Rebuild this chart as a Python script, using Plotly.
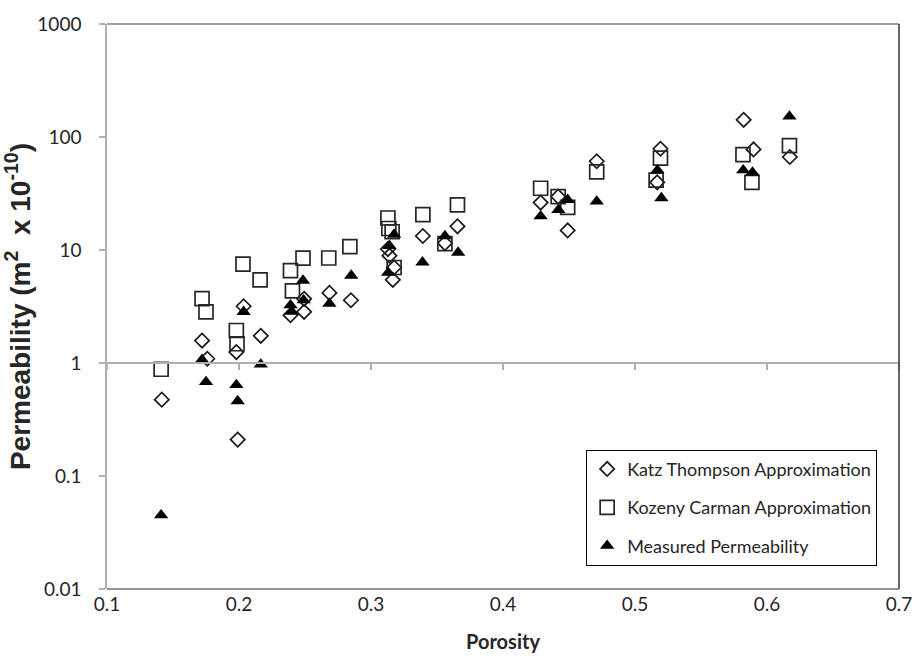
import math
import plotly.graph_objects as go

# ---- data ----
kt_porosity = [0.1415, 0.172, 0.176, 0.198, 0.199, 0.2035, 0.2165, 0.239, 0.2493, 0.2493,
               0.2685, 0.2848, 0.3128, 0.314, 0.3175, 0.3165, 0.3393, 0.356, 0.3655, 0.4285,
               0.4418, 0.449, 0.471, 0.5193, 0.5168, 0.5823, 0.5898, 0.6173]
kt_perm = [0.474, 1.58, 1.09, 1.25, 0.21, 3.18, 1.74, 2.65, 3.7, 2.84,
           4.17, 3.59, 10.2, 8.9, 7.0, 5.45, 13.3, 11.5, 16.2, 26.3,
           29.7, 14.9, 61.0, 78.7, 39.7, 142.0, 77.6, 66.5]

kc_porosity = [0.141, 0.172, 0.175, 0.198, 0.1985, 0.203, 0.216, 0.239, 0.2405, 0.2485,
               0.268, 0.284, 0.3128, 0.3135, 0.316, 0.3175, 0.3393, 0.356, 0.3655, 0.4285,
               0.4418, 0.449, 0.471, 0.5193, 0.516, 0.5818, 0.5886, 0.617]
kc_perm = [0.88, 3.71, 2.84, 1.94, 1.48, 7.5, 5.45, 6.57, 4.34, 8.48,
           8.5, 10.7, 19.2, 15.5, 14.5, 7.0, 20.6, 11.4, 25.1, 35.2,
           29.7, 23.8, 49.2, 65.0, 41.6, 69.7, 39.7, 84.0]

mp_porosity = [0.141, 0.172, 0.175, 0.198, 0.199, 0.2035, 0.2165, 0.239, 0.240, 0.2485,
               0.249, 0.2685, 0.285, 0.313, 0.314, 0.3175, 0.339, 0.356, 0.366, 0.4285,
               0.442, 0.449, 0.471, 0.517, 0.520, 0.582, 0.589, 0.617]
mp_perm = [0.045, 1.07, 0.68, 0.64, 0.46, 2.84, 0.97, 3.25, 2.85, 5.37,
           3.6, 3.36, 5.94, 6.3, 10.9, 13.7, 7.78, 13.3, 9.5, 19.9,
           22.7, 27.8, 26.9, 50.9, 28.8, 50.8, 48.6, 152.0]

series_names = ["Katz Thompson Approximation", "Kozeny Carman Approximation", "Measured Permeability"]

x_range = [0.1, 0.7]
x_ticks = [0.1, 0.2, 0.3, 0.4, 0.5, 0.6, 0.7]
x_ticktext = ["0.1", "0.2", "0.3", "0.4", "0.5", "0.6", "0.7"]
y_range = [0.01, 1000]
y_ticks = [0.01, 0.1, 1, 10, 100, 1000]
y_ticktext = ["0.01", "0.1", "1", "10", "100", "1000"]
y_cross = 1  # horizontal axis crosses the vertical axis at this value

FONT = "Lato"
INK = "#1a1a1a"
TXT = "#262626"

fig = go.Figure()
fig.add_trace(go.Scatter(x=kt_porosity, y=kt_perm, mode="markers", name=series_names[0],
                         legendgroup="a",
                         marker=dict(symbol="diamond-open", size=11, color=INK,
                                     line=dict(width=1.7, color=INK))))
fig.add_trace(go.Scatter(x=kc_porosity, y=kc_perm, mode="markers", name=series_names[1],
                         legendgroup="b",
                         marker=dict(symbol="square-open", size=14, color="#262626",
                                     line=dict(width=1.7, color="#262626"))))
fig.add_trace(go.Scatter(x=mp_porosity, y=mp_perm, mode="markers", name=series_names[2],
                         legendgroup="c",
                         marker=dict(symbol="triangle-up", size=12.5, color="#000000",
                                     line=dict(width=0))))
# invisible trace carrying the crossing horizontal axis
fig.add_trace(go.Scatter(x=[x_range[0]], y=[y_cross], xaxis="x2", mode="markers",
                         marker=dict(opacity=0), showlegend=False, hoverinfo="skip"))

lo, hi = math.log10(y_range[0]), math.log10(y_range[1])
cross_pos = (math.log10(y_cross) - lo) / (hi - lo)

fig.update_layout(
    width=924, height=665,
    margin=dict(l=107, r=17, t=17, b=76),
    paper_bgcolor="white", plot_bgcolor="white",
    font=dict(family=FONT, size=19, color=TXT),
    showlegend=True,
    xaxis=dict(range=x_range, tickvals=x_ticks, ticktext=x_ticktext,
               showgrid=False, zeroline=False, showline=False, ticks="",
               tickfont=dict(size=19, color=TXT), ticklabelstandoff=2,
               title=dict(text="<b>Porosity</b>", font=dict(size=20, color=TXT), standoff=20)),
    xaxis2=dict(overlaying="x", matches="x", anchor="free", position=cross_pos,
                range=x_range, tickvals=x_ticks, showticklabels=False,
                showgrid=False, zeroline=False, showline=True, linecolor="#b0b0b0", linewidth=1.5,
                ticks="outside", ticklen=6, tickcolor="#b0b0b0", tickwidth=1.5),
    yaxis=dict(type="log", range=[lo, hi], tickvals=y_ticks, ticktext=y_ticktext,
               showgrid=False, zeroline=False, showline=True, linecolor="#b0b0b0", linewidth=1.5,
               ticks="outside", ticklen=6, tickcolor="#b0b0b0", tickwidth=1.5,
               tickfont=dict(size=19, color=TXT), ticklabelstandoff=14,
               title=dict(text="<b>Permeability (m<sup>2</sup>  x 10<sup>-10</sup>)</b>",
                          font=dict(family="Liberation Sans", size=28, color=TXT), standoff=4)),
    legend=dict(x=0.605, y=0.2465, xanchor="left", yanchor="top",
                bordercolor="#000000", borderwidth=1, bgcolor="white",
                font=dict(family=FONT, size=18, color=TXT),
                traceorder="grouped", tracegroupgap=12, itemwidth=30),
    shapes=[
        dict(type="line", xref="paper", yref="paper", x0=0, x1=1, y0=1, y1=1,
             line=dict(color="#808080", width=1.5)),
        dict(type="line", xref="paper", yref="paper", x0=1, x1=1, y0=0, y1=1,
             line=dict(color="#333333", width=1.5)),
        dict(type="line", xref="paper", yref="paper", x0=0, x1=1, y0=0, y1=0,
             line=dict(color="#6f6f6f", width=1.5)),
    ],
)

fig.write_html("out.html")
